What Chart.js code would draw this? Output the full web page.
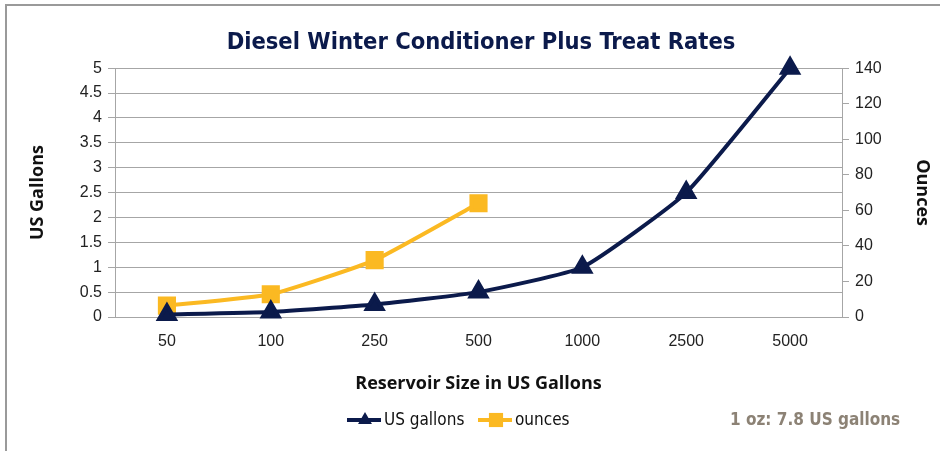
<!DOCTYPE html>
<html>
<head>
<meta charset="utf-8">
<script src="https://cdn.jsdelivr.net/npm/chart.js@4/dist/chart.umd.min.js"></script>
<style>
  html, body { margin: 0; padding: 0; background: #fff; }
  #wrap { position: relative; width: 940px; height: 451px; }
</style>
</head>
<body>
<div id="wrap"><canvas id="chart" width="940" height="451"></canvas></div>
<script>
// Reservoir sizes (US gallons) and treat rates
const reservoirSizes = ['50', '100', '250', '500', '1000', '2500', '5000'];
const gallonsNeeded = [0.05, 0.1, 0.25, 0.5, 1, 2.5, 5];
const ouncesNeeded = [6.4, 12.8, 32, 64, null, null, null];

const navy = '#0b1a4b';
const gold = '#fbb922';
const gridGray = '#a6a6a6';
const axisFont = { family: 'Liberation Sans, Arial, sans-serif', size: 16 };
const titleFont = { family: 'Open Sans, sans-serif', size: 18, weight: 'bold' };
const plainNumber = v => String(v);

// Legend with line + marker swatches, plus the side note
const legendPlugin = {
    id: 'customLegend',
    afterDraw(chart) {
        const ctx = chart.ctx;
        const y = 420;
        const items = [
            { label: chart.data.datasets[0].label, color: navy, style: 'triangle', x: 347 },
            { label: chart.data.datasets[1].label, color: gold, style: 'rect', x: 478 }
        ];
        ctx.save();
        items.forEach(it => {
            ctx.strokeStyle = it.color;
            ctx.lineWidth = 4;
            ctx.beginPath();
            ctx.moveTo(it.x, y);
            ctx.lineTo(it.x + 34, y);
            ctx.stroke();
            ctx.fillStyle = it.color;
            Chart.helpers.drawPoint(ctx, { pointStyle: it.style, radius: it.style === 'rect' ? 10 : 8, rotation: 0 }, it.x + 18, y);
            ctx.fillStyle = '#111';
            ctx.font = '17px "DejaVu Sans Condensed", sans-serif';
            ctx.textBaseline = 'middle';
            ctx.textAlign = 'left';
            ctx.fillText(it.label, it.x + 37, y + 1);
        });
        ctx.fillStyle = '#8c8275';
        ctx.font = 'bold 17px "DejaVu Sans Condensed", sans-serif';
        ctx.fillText('1 oz: 7.8 US gallons', 730, y + 1);
        ctx.restore();
    }
};

// Frame lines (top and left edges) seen in the reference
const framePlugin = {
    id: 'frame',
    beforeDraw(chart) {
        const ctx = chart.ctx;
        ctx.save();
        ctx.fillStyle = '#fff';
        ctx.fillRect(0, 0, chart.width, chart.height);
        ctx.strokeStyle = '#9a9a9a';
        ctx.lineWidth = 2;
        ctx.beginPath();
        ctx.moveTo(6, chart.height);
        ctx.lineTo(6, 5);
        ctx.lineTo(chart.width, 5);
        ctx.stroke();
        ctx.restore();
    }
};

new Chart(document.getElementById('chart'), {
    type: 'line',
    data: {
        labels: reservoirSizes,
        datasets: [
            {
                label: 'US gallons',
                data: gallonsNeeded,
                yAxisID: 'y',
                borderColor: navy,
                backgroundColor: navy,
                borderWidth: 4,
                pointStyle: 'triangle',
                pointRadius: 9,
                tension: 0.15,
                clip: false
            },
            {
                label: 'ounces',
                data: ouncesNeeded,
                yAxisID: 'y1',
                borderColor: gold,
                backgroundColor: gold,
                borderWidth: 4,
                pointStyle: 'rect',
                pointRadius: 10,
                tension: 0.15,
                clip: false
            }
        ]
    },
    options: {
        responsive: false,
        animation: false,
        layout: { padding: { left: 22, right: 0, top: 0, bottom: 56 } },
        plugins: {
            legend: { display: false },
            tooltip: { enabled: false },
            title: {
                display: true,
                text: 'Diesel Winter Conditioner Plus Treat Rates',
                color: navy,
                font: { family: 'DejaVu Sans Condensed, sans-serif', size: 23.5, weight: 'bold' },
                padding: { top: 29, bottom: 11 }
            }
        },
        scales: {
            x: {
                offset: true,
                grid: { display: false },
                border: { display: false },
                ticks: { color: '#222', font: axisFont, padding: 7 },
                title: { display: true, text: 'Reservoir Size in US Gallons', color: '#111', font: titleFont, padding: { top: 0, bottom: 0 } },
                afterFit(s) { s.height = 78; }
            },
            y: {
                position: 'left',
                min: 0, max: 5,
                ticks: { stepSize: 0.5, color: '#222', font: axisFont, padding: 6, callback: plainNumber },
                grid: { color: gridGray, tickLength: 7 },
                border: { color: gridGray },
                title: { display: true, text: 'US Gallons', color: '#111', font: titleFont, padding: { top: 5, bottom: 0 } },
                afterFit(s) { s.width = 93; }
            },
            y1: {
                position: 'right',
                min: 0, max: 140,
                ticks: { stepSize: 20, color: '#222', font: axisFont, padding: 6, callback: plainNumber },
                grid: { drawOnChartArea: false, color: gridGray, tickLength: 7 },
                border: { color: gridGray },
                title: { display: true, text: 'Ounces', color: '#111', font: titleFont, padding: { top: 7, bottom: 0 } },
                afterFit(s) { s.width = 98; }
            }
        }
    },
    plugins: [framePlugin, legendPlugin]
});
</script>
</body>
</html>
